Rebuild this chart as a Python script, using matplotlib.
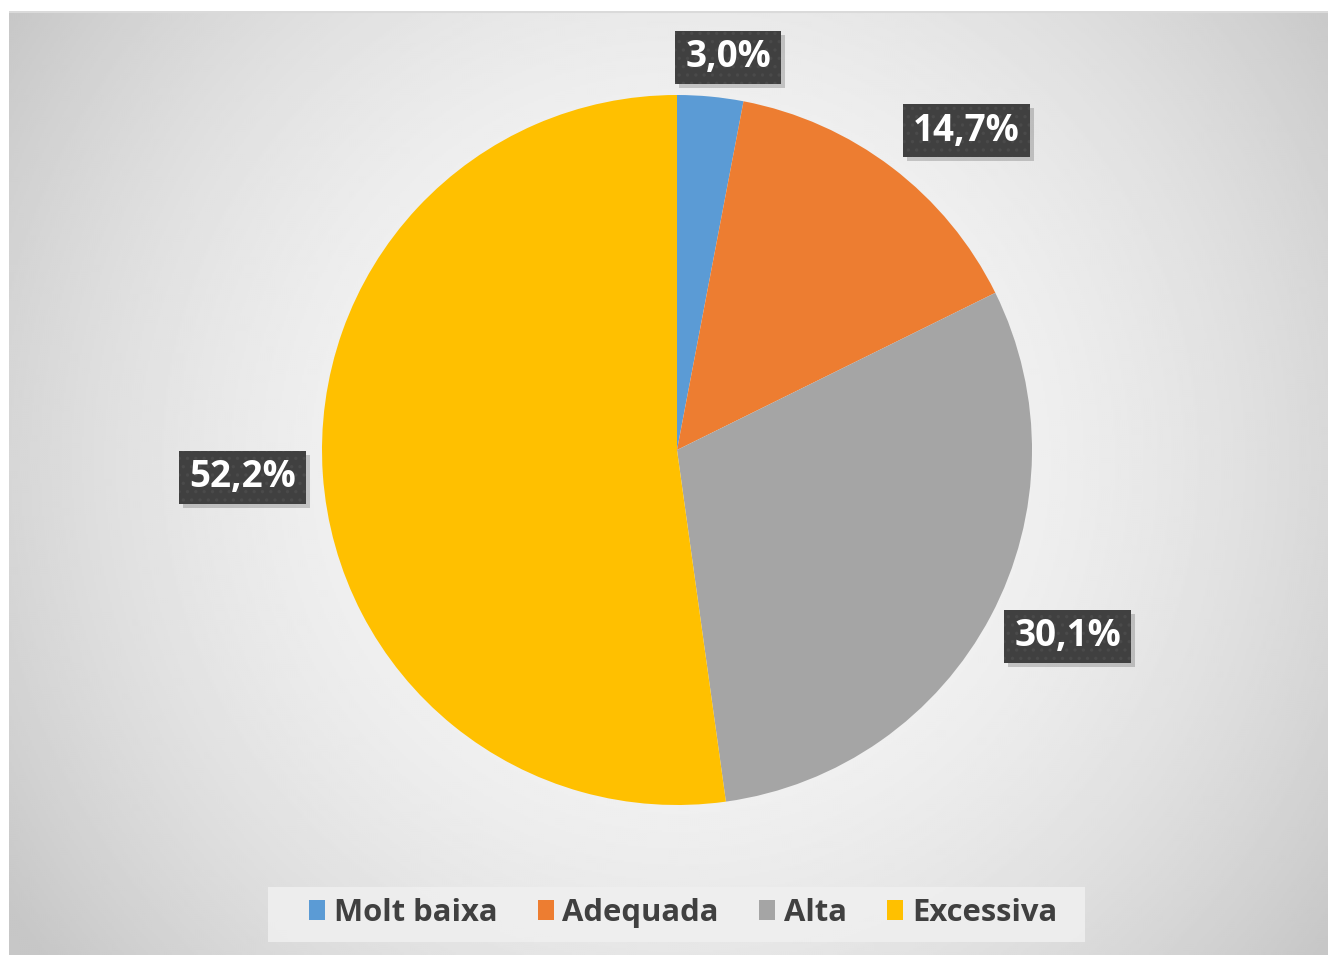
import numpy as np
import matplotlib
matplotlib.use("Agg")
import matplotlib.pyplot as plt
from matplotlib.patches import Rectangle
from matplotlib.transforms import IdentityTransform

categories = ["Molt baixa", "Adequada", "Alta", "Excessiva"]
values = [3.0, 14.7, 30.1, 52.2]
labels = ["3,0%", "14,7%", "30,1%", "52,2%"]
colors = ["#5B9BD5", "#ED7D31", "#A5A5A5", "#FFC000"]

# label placement (radius multiple, angle tweak in degrees)
label_dist = [1.115, 1.214, 1.219, 1.226]
label_dang = [-2.0, -4.9, 2.4, -0.4]

plt.rcParams["font.family"] = ["Open Sans", "DejaVu Sans"]
plt.rcParams["hatch.linewidth"] = 1.2

W, H = 1328, 955
fig = plt.figure(figsize=(W / 100, H / 100), dpi=100)
fig.patch.set_facecolor("white")

# radial gradient of the chart area
left, top = 9, 11
bg = fig.add_axes([left / W, 0, 1 - left / W, 1 - top / H])
bg.set_axis_off()
yy, xx = np.mgrid[top:H:2, left:W:2].astype(float)
d2 = (xx - 680) ** 2 + (yy - 460) ** 2
shade = np.clip(0.975 - 3.0e-7 * d2, 0.78, 1)
bg.imshow(shade, cmap="gray", vmin=0, vmax=1, aspect="auto",
          extent=[0, 1, 0, 1], origin="upper", interpolation="bilinear")
bg.plot([0, 1], [0.999, 0.999], color="#dadada", lw=1.5, transform=bg.transAxes)

# pie
r_px = 355
pcx, pcy = 677, 450
ax = fig.add_axes([(pcx - r_px) / W, (H - pcy - r_px) / H, 2 * r_px / W, 2 * r_px / H])
wedges, _ = ax.pie(values, colors=colors, startangle=90, counterclock=False,
                   radius=1.0, wedgeprops=dict(linewidth=0))
ax.set_xlim(-1, 1)
ax.set_ylim(-1, 1)

renderer = fig.canvas.get_renderer()
for w, lab, dist, dang in zip(wedges, labels, label_dist, label_dang):
    ang = np.deg2rad((w.theta1 + w.theta2) / 2 + dang)
    x, y = dist * np.cos(ang), dist * np.sin(ang)
    t = ax.text(x, y, lab, ha="center", va="center", fontsize=26.5,
                fontweight="bold", color="white", zorder=10)
    ext = t.get_window_extent(renderer)
    px, py = ax.transData.transform((x, y))
    bw, bh = ext.width + 20, 53
    shadow = Rectangle((px - bw / 2 + 4, py - bh / 2 - 4), bw, bh,
                       transform=IdentityTransform(), facecolor="black",
                       edgecolor="none", alpha=0.18, zorder=8, clip_on=False)
    box = Rectangle((px - bw / 2, py - bh / 2), bw, bh, transform=IdentityTransform(),
                    facecolor="#404040", edgecolor="#4a4a4a", linewidth=0,
                    hatch="..", zorder=9, clip_on=False)
    ax.add_patch(shadow)
    ax.add_patch(box)

# legend
fig.add_artist(Rectangle((268, H - 942), 1085 - 268, 55, transform=IdentityTransform(),
                         facecolor="#efefef", edgecolor="none", alpha=0.9))
leg = fig.legend(wedges, categories, loc="center", bbox_to_anchor=(683 / W, 1 - 913 / H),
                 ncol=4, frameon=False, fontsize=22.3,
                 handlelength=0.52, handleheight=0.62, handletextpad=0.28,
                 columnspacing=1.3)
for t in leg.get_texts():
    t.set_color("#404040")
    t.set_fontweight("bold")

fig.savefig("out.png", dpi=100)
